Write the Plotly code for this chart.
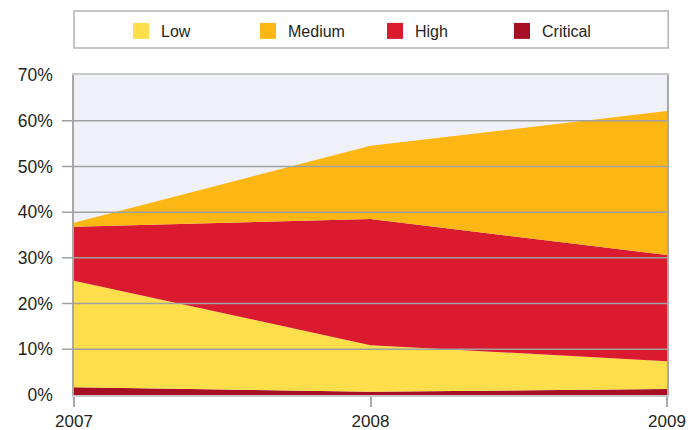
import plotly.graph_objects as go

years = [2007, 2008, 2009]
critical = [1.7, 0.7, 1.3]
low = [23.3, 10.2, 6.1]
high = [11.8, 27.6, 23.2]
medium = [0.9, 16.0, 31.5]

series = [
    ("Critical", critical, "#A60F24", 4),
    ("Low", low, "#FEDF4B", 1),
    ("High", high, "#D91A2F", 3),
    ("Medium", medium, "#FCB714", 2),
]

y_ticks = [0, 10, 20, 30, 40, 50, 60, 70]
y_tick_labels = [f"{v}%" for v in y_ticks]
grid_vals = [10, 20, 30, 40, 50, 60]

fig = go.Figure()
for name, vals, color, rank in series:
    fig.add_trace(go.Scatter(
        x=years, y=vals, name=name, mode="lines", stackgroup="one",
        line=dict(width=0, color=color), fillcolor=color,
        showlegend=False, hoverinfo="x+y+name",
    ))
for name, vals, color, rank in series:
    fig.add_trace(go.Scatter(
        x=[None], y=[None], name=name, mode="markers",
        marker=dict(symbol="square", size=16, color=color),
        legendrank=rank, showlegend=True,
    ))

shapes = [dict(type="line", xref="paper", yref="y", x0=-12/593, x1=1, y0=v, y1=v,
               line=dict(color="#A0A0A0", width=1.5), layer="above") for v in grid_vals]
shapes.append(dict(type="rect", xref="paper", yref="paper", x0=0, x1=1.002,
                   y0=(395-48)/320, y1=(395-11)/320,
                   line=dict(color="#B4B4B8", width=1.5), fillcolor="white", layer="below"))

fig.update_layout(
    width=698, height=430,
    margin=dict(l=74, r=31, t=75, b=35),
    paper_bgcolor="white", plot_bgcolor="#EFF0F8",
    font=dict(family="Liberation Sans, Arial, sans-serif", color="#231F20", size=17),
    showlegend=True,
    legend=dict(orientation="h", x=(121-74)/593, xanchor="left",
                y=(395-31)/320, yanchor="middle",
                bgcolor="rgba(0,0,0,0)", borderwidth=0,
                font=dict(size=16, color="#231F20"),
                entrywidth=82, entrywidthmode="pixels",
                traceorder="normal"),
    shapes=shapes,
    xaxis=dict(range=[2007, 2009], tickvals=years, ticktext=[str(y) for y in years],
               showgrid=False, zeroline=False, ticks="outside", ticklen=10,
               tickcolor="#A8A8A8", tickwidth=1.5, showline=True, linecolor="#C8C8C8",
               linewidth=1.5, mirror=True, layer="above traces", automargin=False,
               tickfont=dict(size=17)),
    yaxis=dict(range=[0, 70], tickvals=y_ticks, ticktext=y_tick_labels,
               showgrid=False, zeroline=False, ticks="", showline=True,
               linecolor="#A8A8A8", linewidth=1.5, mirror=True, layer="above traces",
               automargin=False,
               tickfont=dict(size=17.5), ticklabelstandoff=16),
)

fig.write_html("out.html")
